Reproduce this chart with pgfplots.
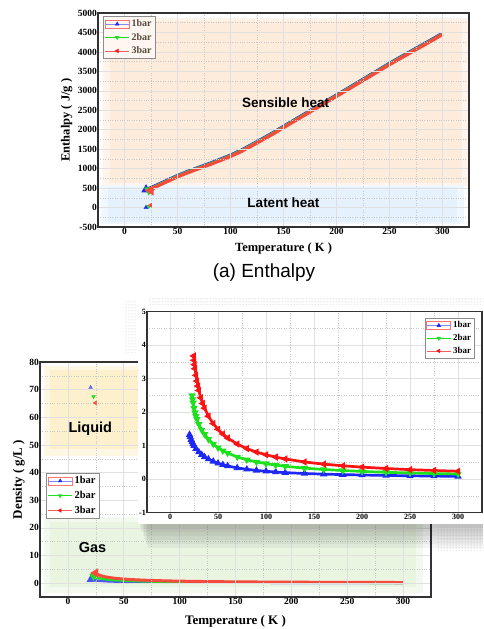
\documentclass[border=0pt]{standalone}
\usepackage{fontspec}
\setmainfont{Liberation Serif}
\newfontfamily\sansfont{Liberation Sans}
\usepackage{pgfplots}
\pgfplotsset{compat=1.18}
\usepackage{pgfplotstable}
\usetikzlibrary{patterns}

\definecolor{cblue}{RGB}{30,40,245}
\definecolor{cgreen}{RGB}{30,225,30}
\definecolor{cred}{RGB}{245,75,60}
\definecolor{ired}{RGB}{250,20,20}
\definecolor{peach}{RGB}{253,235,220}
\definecolor{lblue}{RGB}{229,241,253}
\definecolor{lyellow}{RGB}{252,240,205}
\definecolor{lgreen}{RGB}{233,244,225}
\definecolor{legtext}{RGB}{85,72,62}

% ---------- data ----------
\pgfplotstableread{
T H
20.3 460
25 515
30 575
40 700
50 825
60 935
70 1035
80 1135
90 1240
100 1350
110 1475
125 1695
140 1925
150 2090
160 2250
175 2492
190 2735
200 2895
210 3055
225 3300
240 3545
250 3710
260 3865
275 4095
290 4325
300 4480
}\entA
\pgfplotstableread{
T H
22.9 450
25 493
30 558
40 684
50 809
60 919
70 1019
80 1119
90 1224
100 1334
110 1459
125 1679
140 1909
150 2074
160 2234
175 2476
190 2719
200 2879
210 3039
225 3284
240 3529
250 3694
260 3849
275 4079
290 4309
300 4464
}\entB
\pgfplotstableread{
T H
24.6 440
25 447
30 540
40 666
50 791
60 901
70 1001
80 1101
90 1206
100 1316
110 1441
125 1661
140 1891
150 2056
160 2216
175 2458
190 2701
200 2861
210 3021
225 3266
240 3511
250 3676
260 3831
275 4061
290 4291
300 4450
}\entC
\pgfplotstableread{
T D
20.3 1.33
21 1.26
22 1.18
23 1.11
24 1.05
25 1.00
27 0.91
30 0.81
33 0.73
36 0.665
40 0.60
45 0.53
50 0.475
55 0.43
60 0.395
70 0.337
80 0.295
90 0.262
100 0.236
110 0.214
120 0.196
140 0.170
160 0.152
180 0.137
200 0.125
225 0.112
250 0.102
275 0.093
300 0.085
}\denA
\pgfplotstableread{
T D
22.9 2.50
23.5 2.38
24 2.28
25 2.12
26 1.99
27 1.88
28 1.79
30 1.64
33 1.47
36 1.34
40 1.19
45 1.05
50 0.94
55 0.85
60 0.78
70 0.665
80 0.58
90 0.515
100 0.465
110 0.42
120 0.385
140 0.33
160 0.29
180 0.258
200 0.232
225 0.206
250 0.186
275 0.169
300 0.155
}\denB
\pgfplotstableread{
T D
24.6 3.68
25 3.55
25.5 3.42
26 3.30
27 3.10
28 2.93
29 2.78
30 2.65
32 2.43
34 2.26
36 2.12
40 1.88
45 1.66
50 1.49
55 1.35
60 1.23
70 1.05
80 0.915
90 0.81
100 0.73
110 0.66
120 0.605
140 0.515
160 0.45
180 0.40
200 0.36
225 0.32
250 0.285
275 0.26
300 0.238
}\denC

\pgfplotsset{
  hstyle/.style={
    scale only axis, axis on top,
    /pgf/number format/assume math mode=true,
    /pgf/number format/1000 sep={},
    tick label style={font=\bfseries\fontsize{9.5}{9.5}\selectfont, inner sep=1pt},
    major tick length=0pt, minor tick length=0pt,
    grid=both, minor x tick num=1, minor y tick num=1,
    major grid style={draw=black!12, line width=0.6pt},
    minor grid style={draw=black!22, dotted, line width=0.5pt},
    axis line style={draw=black!80, line width=1.1pt},
    label style={font=\bfseries\fontsize{12.5}{12.5}\selectfont},
    legend cell align=left,
    scaled ticks=false,
  },
  leg1/.style={legend image code/.code={
     \draw[red!55, line width=0.6pt] (0pt,-4pt) rectangle (24pt,4pt);
     \draw[cblue!55, line width=0.7pt] (0pt,0pt) -- (24pt,0pt);
     \draw[cblue, mark=triangle*, mark size=1.9pt, mark options={fill=cblue}] plot coordinates {(12pt,0pt)};}},
  leg2/.style={legend image code/.code={
     \draw[cgreen, line width=0.7pt] (0pt,0pt) -- (24pt,0pt);
     \draw[cgreen, mark=triangle*, mark size=1.9pt, mark options={fill=cgreen, rotate=180}] plot coordinates {(12pt,0pt)};}},
  leg3/.style={legend image code/.code={
     \draw[ired!70, line width=0.7pt] (0pt,0pt) -- (24pt,0pt);
     \draw[ired, mark=triangle*, mark size=1.9pt, mark options={fill=ired, rotate=90}] plot coordinates {(12pt,0pt)};}},
}

\begin{document}
\begin{tikzpicture}
\path[use as bounding box] (0pt,0pt) rectangle (483pt,629pt);

% ================= (a) Enthalpy =================
\begin{axis}[hstyle,
  at={(98pt,402pt)}, anchor=south west, width=371pt, height=214pt,
  xmin=-25, xmax=325, ymin=-500, ymax=5000,
  xtick={0,50,...,300}, ytick={-500,0,...,5000},
  xlabel={Temperature ( K )}, ylabel={Enthalpy ( J/g )},
  xlabel style={yshift=-4pt}, ylabel style={yshift=1pt},
  legend style={at={(0.0135,0.986)}, anchor=north west, draw=black!45, line width=0.7pt,
    fill=peach!40!white, text=legtext, font=\bfseries\fontsize{10}{10}\selectfont,
    inner sep=1.5pt, row sep=1pt},
]
\fill[peach!55] (axis cs:-20,4860) rectangle (axis cs:324,560);
\fill[peach] (axis cs:-14,4790) rectangle (axis cs:318,620);
\fill[lblue!55] (axis cs:-22,580) rectangle (axis cs:320,-430);
\fill[lblue] (axis cs:-16,520) rectangle (axis cs:314,-370);
\addlegendimage{leg1}\addlegendentry{1bar}
\addlegendimage{leg2}\addlegendentry{2bar}
\addlegendimage{leg3}\addlegendentry{3bar}
\addplot[forget plot, cblue, line width=3pt, mark=triangle*, mark indices={1}, mark size=2.5pt] table[x=T,y=H]{\entA};
\addplot[forget plot, cgreen, line width=3pt, mark=triangle*, mark indices={1}, mark size=2.5pt, mark options={rotate=180}] table[x=T,y=H]{\entB};
\addplot[forget plot, cred, line width=3.4pt, mark=triangle*, mark indices={1}, mark size=2.5pt, mark options={rotate=90}] table[x=T,y=H]{\entC};
\addplot[forget plot, only marks, cblue, mark=triangle*, mark size=2.4pt] coordinates {(20.3,0)};
\addplot[forget plot, only marks, cgreen, mark=triangle*, mark size=2.4pt, mark options={rotate=180}] coordinates {(22.9,28)};
\addplot[forget plot, only marks, cred, mark=triangle*, mark size=2.4pt, mark options={rotate=90}] coordinates {(24.6,60)};
\coordinate (sens) at (axis cs:152,2690);
\coordinate (lat) at (axis cs:150,120);
\end{axis}
\node[font=\sansfont\bfseries\fontsize{13.5}{13.5}\selectfont] at (sens) {Sensible heat};
\node[font=\sansfont\bfseries\fontsize{13.5}{13.5}\selectfont] at (lat) {Latent heat};

\node[font=\sansfont\fontsize{19}{19}\selectfont] at (264pt,356pt) {(a) Enthalpy};

% ================= Density main =================
\begin{axis}[hstyle,
  at={(40pt,32pt)}, anchor=south west, width=391pt, height=235pt,
  xmin=-25, xmax=325, ymin=-5, ymax=80,
  xtick={0,50,...,300}, ytick={0,10,...,80},
  xlabel={Temperature ( K )}, ylabel={Density ( g/L )},
  xlabel style={yshift=-6pt},
  label style={font=\bfseries\fontsize{13}{13}\selectfont},
  legend style={at={(0.0153,0.529)}, anchor=north west, draw=black!45, line width=0.7pt,
    fill=white, font=\bfseries\fontsize{10.5}{10.5}\selectfont,
    inner sep=1.5pt, row sep=2pt},
]
\fill[lyellow!55] (axis cs:-21,78.5) rectangle (axis cs:340,46);
\fill[lyellow] (axis cs:-16,77) rectangle (axis cs:340,48.5);
\fill[lgreen!55] (axis cs:-21,24) rectangle (axis cs:318,-3.5);
\fill[lgreen] (axis cs:-16,22) rectangle (axis cs:312,-1.5);
\addlegendimage{leg1}\addlegendentry{1bar}
\addlegendimage{leg2}\addlegendentry{2bar}
\addlegendimage{leg3}\addlegendentry{3bar}
\addplot[forget plot, cblue!80, line width=2.4pt, mark=triangle*, mark indices={1}, mark size=2.2pt] table[x=T,y=D]{\denA};
\addplot[forget plot, cgreen, line width=2.6pt, mark=triangle*, mark indices={1}, mark size=2.2pt, mark options={rotate=180}] table[x=T,y=D]{\denB};
\addplot[forget plot, cred, line width=3pt, mark=triangle*, mark indices={1}, mark size=2.4pt, mark options={rotate=90}] table[x=T,y=D]{\denC};
\addplot[forget plot, only marks, cblue!70, mark=triangle*, mark size=2.2pt] coordinates {(20.3,70.8)};
\addplot[forget plot, only marks, cgreen, mark=triangle*, mark size=2.2pt, mark options={rotate=180}] coordinates {(22.9,67.5)};
\addplot[forget plot, only marks, cred, mark=triangle*, mark size=2.2pt, mark options={rotate=90}] coordinates {(24.6,65.2)};
\coordinate (liq) at (axis cs:20,55.8);
\coordinate (gas) at (axis cs:22,12.9);
\end{axis}
\node[font=\sansfont\bfseries\fontsize{14.5}{14.5}\selectfont] at (liq) {Liquid};
\node[font=\sansfont\bfseries\fontsize{14.5}{14.5}\selectfont] at (gas) {Gas};

% ---------- inset panel ----------
\foreach \i in {1,...,6} {
  \fill[black, opacity=0.045] ({138pt+\i*1.5pt},{105pt-\i*4pt}) rectangle ({483pt},{332pt-\i*3pt});
}
\fill[white] (138pt,105pt) rectangle (483pt,332pt);
\fill[pattern=dots, pattern color=black!30] (148pt,324pt) rectangle (483pt,331pt);
\fill[pattern=dots, pattern color=black!25] (125pt,276pt) rectangle (136pt,328pt);
\fill[pattern=dots, pattern color=black!35] (437pt,78pt) rectangle (483pt,104pt);

% ================= Density inset =================
\begin{axis}[hstyle, axis on top=false,
  at={(147pt,116.3pt)}, anchor=south west, width=335pt, height=201pt,
  xmin=-24, xmax=325, ymin=-1, ymax=5,
  xtick={0,50,...,300}, ytick={-1,0,...,5},
  tick label style={font=\bfseries\fontsize{8}{8}\selectfont, inner sep=1pt},
  legend style={at={(0.979,0.97)}, anchor=north east, draw=black!45, line width=0.7pt,
    fill=white, font=\bfseries\fontsize{9}{9}\selectfont,
    inner sep=1.5pt, row sep=1pt},
]
\addlegendimage{leg1}\addlegendentry{1bar}
\addlegendimage{leg2}\addlegendentry{2bar}
\addlegendimage{leg3}\addlegendentry{3bar}
\addplot[forget plot, cblue, line width=2.7pt, mark=triangle*, mark size=1.6pt] table[x=T,y=D]{\denA};
\addplot[forget plot, cgreen, line width=2.7pt, mark=triangle*, mark size=1.6pt, mark options={rotate=180}] table[x=T,y=D]{\denB};
\addplot[forget plot, ired, line width=2.7pt, mark=triangle*, mark size=1.6pt, mark options={rotate=90}] table[x=T,y=D]{\denC};
\end{axis}
\end{tikzpicture}
\end{document}
